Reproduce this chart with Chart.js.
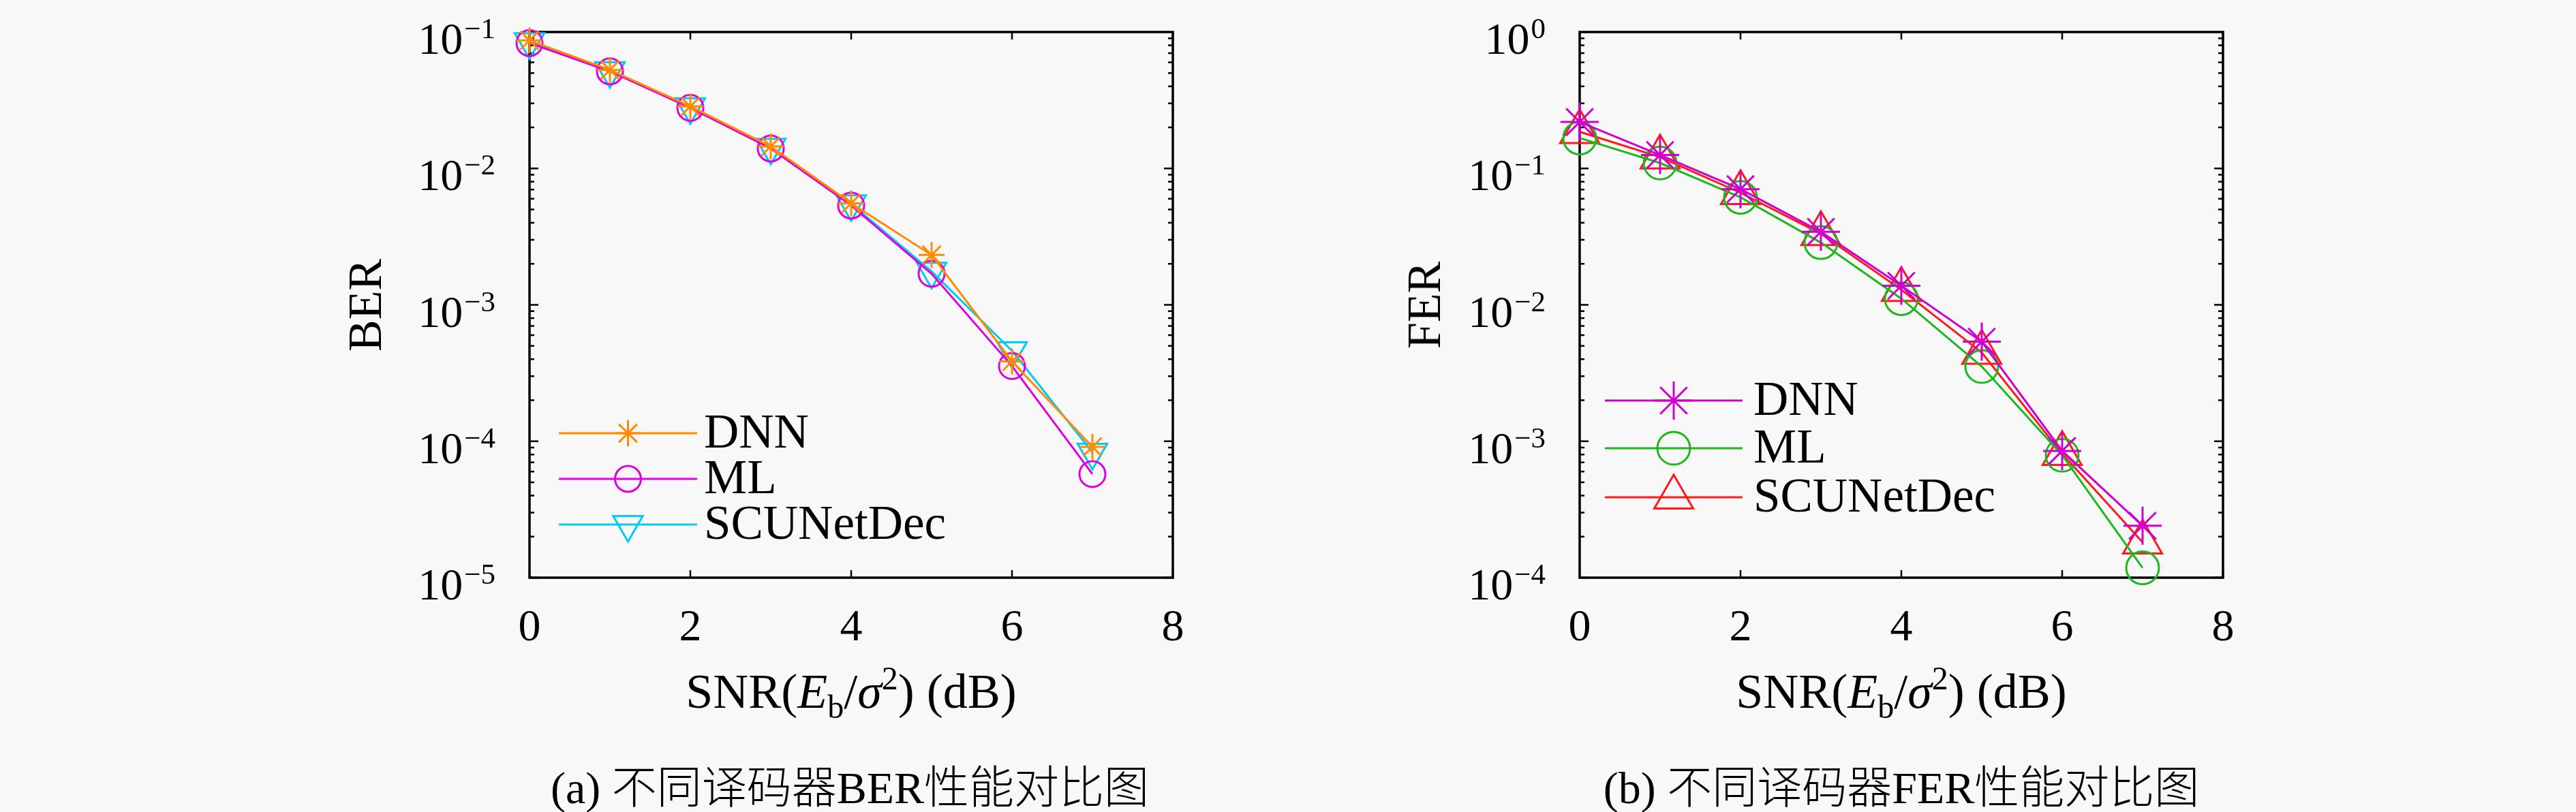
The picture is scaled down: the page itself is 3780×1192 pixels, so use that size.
<!DOCTYPE html>
<html>
<head>
<meta charset="utf-8">
<script src="https://cdn.jsdelivr.net/npm/chart.js@4.4.0/dist/chart.umd.min.js"></script>
<style>
body { margin: 0; background: #f8f8f8; width: 3780px; height: 1192px; position: relative; overflow: hidden; font-family: "Liberation Serif", serif; }
.panel { position: absolute; top: 0; width: 1890px; height: 1192px; }
.txt { position: absolute; white-space: nowrap; color: #000; line-height: 1; }
.xt { font-size: 72px; top: 979px; transform: translateX(-50%); }
.yt { font-size: 70px; transform: translate(-50%, -50%) rotate(-90deg); }
.cap { font-size: 66px; top: 1117px; transform: translateX(-50%); font-family: "Liberation Serif", "Noto Sans CJK SC"; }
.cjk { font-family: "Noto Sans CJK SC"; font-weight: 300; }
.sub { font-size: 48px; position: relative; top: 15px; font-style: normal; }
.sup { font-size: 48px; position: relative; top: -27px; }
</style>
</head>
<body>
<div class="panel" style="left:0"><canvas id="berChart"></canvas></div>
<div class="panel" style="left:1890px"><canvas id="ferChart"></canvas></div>

<div class="txt yt" style="left:536px; top:448px">BER</div>
<div class="txt yt" style="left:2090px; top:448px">FER</div>
<div class="txt xt" style="left:1249px">SNR(<i>E</i><span class="sub">b</span>/<i>σ</i><span class="sup">2</span>) (dB)</div>
<div class="txt xt" style="left:2790px">SNR(<i>E</i><span class="sub">b</span>/<i>σ</i><span class="sup">2</span>) (dB)</div>
<div class="txt cap" style="left:1247px">(a) <span class="cjk">不同译码器</span>BER<span class="cjk">性能对比图</span></div>
<div class="txt cap" style="left:2790px">(b) <span class="cjk">不同译码器</span>FER<span class="cjk">性能对比图</span></div>

<script>
const snr = [0, 1, 2, 3, 4, 5, 6, 7];
const names = ['DNN', 'ML', 'SCUNetDec'];

const berDnn = [0.0868, 0.0527, 0.0285, 0.0145, 0.00555, 0.00232, 0.000385, 0.000091];
const berMl = [0.0830, 0.0515, 0.0278, 0.0140, 0.00535, 0.00169, 0.000356, 0.0000575];
const berScu = [0.0850, 0.0520, 0.0283, 0.0143, 0.00550, 0.00176, 0.000460, 0.000083];

const ferDnn = [0.219, 0.1254, 0.0705, 0.0343, 0.0138, 0.00537, 0.00085, 0.00024];
const ferMl = [0.167, 0.1096, 0.0614, 0.0286, 0.0111, 0.00353, 0.00079, 0.000118];
const ferScu = [0.1855, 0.121, 0.0663, 0.0332, 0.0129, 0.00447, 0.00081, 0.000182];

const xTicks = [0, 2, 4, 6, 8];
const FONT = '"Liberation Serif"';

function series(label, vals, color, style, r, rot) {
    return {
        label: label,
        data: vals.map((v, i) => ({ x: snr[i], y: v })),
        borderColor: color,
        borderWidth: 3,
        pointStyle: style,
        pointRadius: r,
        pointRotation: rot || 0,
        pointBorderColor: color,
        pointBackgroundColor: 'rgba(0,0,0,0)',
        pointBorderWidth: 3,
        fill: false,
        tension: 0,
        clip: false
    };
}

// box, inward ticks and 10^n labels
const frame = {
    id: 'frame',
    beforeDatasetsDraw(chart) {
        const { ctx, chartArea: a, scales: { x, y } } = chart;
        ctx.save();
        ctx.strokeStyle = '#000';
        ctx.lineWidth = 2.5;
        ctx.beginPath();
        x.ticks.forEach(t => {
            const px = x.getPixelForValue(t.value);
            ctx.moveTo(px, a.bottom); ctx.lineTo(px, a.bottom - 11);
            ctx.moveTo(px, a.top); ctx.lineTo(px, a.top + 11);
        });
        const e0 = Math.round(Math.log10(y.min));
        const e1 = Math.round(Math.log10(y.max));
        for (let e = e0; e < e1; e++) {
            for (let m = 1; m < 10; m++) {
                const py = y.getPixelForValue(m * Math.pow(10, e));
                const len = m === 1 ? 13 : 7;
                ctx.moveTo(a.left, py); ctx.lineTo(a.left + len, py);
                ctx.moveTo(a.right, py); ctx.lineTo(a.right - len, py);
            }
        }
        ctx.stroke();
        ctx.lineWidth = 3.5;
        ctx.strokeRect(a.left, a.top, a.right - a.left, a.bottom - a.top);

        ctx.fillStyle = '#000';
        ctx.textAlign = 'right';
        ctx.textBaseline = 'alphabetic';
        for (let e = e0; e <= e1; e++) {
            const py = y.getPixelForValue(Math.pow(10, e));
            const exp = e < 0 ? '\u2212' + (-e) : String(e);
            ctx.font = '43px ' + FONT;
            const ew = ctx.measureText(exp).width;
            ctx.fillText(exp, a.left - 50, py + 9);
            ctx.font = '66px ' + FONT;
            ctx.fillText('10', a.left - 52 - ew, py + 32);
        }
        ctx.restore();
    }
};

// legend inside the axes: line with marker, then the name
const lineLegend = {
    id: 'lineLegend',
    afterDatasetsDraw(chart, args, opts) {
        const ctx = chart.ctx;
        ctx.save();
        chart.data.datasets.forEach((ds, i) => {
            const yy = opts.rows[i];
            ctx.strokeStyle = ds.borderColor;
            ctx.lineWidth = 3;
            ctx.beginPath();
            ctx.moveTo(opts.x0, yy);
            ctx.lineTo(opts.x1, yy);
            ctx.stroke();
            ctx.fillStyle = 'rgba(0,0,0,0)';
            Chart.helpers.drawPoint(ctx, {
                pointStyle: ds.pointStyle,
                radius: ds.pointRadius,
                rotation: ds.pointRotation,
                borderWidth: 3
            }, (opts.x0 + opts.x1) / 2, yy);
            ctx.fillStyle = '#000';
            ctx.font = '71px ' + FONT;
            ctx.textAlign = 'left';
            ctx.textBaseline = 'middle';
            ctx.fillText(ds.label, opts.textX, yy + 2);
        });
        ctx.restore();
    }
};

function makeChart(id, datasets, yMin, yMax, leftW, rightPad, legend) {
    return new Chart(document.getElementById(id), {
        type: 'line',
        data: { datasets: datasets },
        options: {
            responsive: true,
            maintainAspectRatio: false,
            animation: false,
            devicePixelRatio: 1,
            layout: { padding: { left: 0, top: 47, right: rightPad, bottom: 0 } },
            scales: {
                x: {
                    type: 'linear',
                    min: 0,
                    max: 8,
                    afterBuildTicks: s => { s.ticks = xTicks.map(v => ({ value: v })); },
                    ticks: { font: { family: 'Liberation Serif', size: 66 }, color: '#000', padding: 35, maxRotation: 0 },
                    grid: { display: false, drawTicks: false },
                    border: { display: false },
                    afterFit: s => { s.height = 1192 - 848; }
                },
                y: {
                    type: 'logarithmic',
                    min: yMin,
                    max: yMax,
                    ticks: { display: false },
                    grid: { display: false, drawTicks: false },
                    border: { display: false },
                    afterFit: s => { s.width = leftW; }
                }
            },
            plugins: {
                legend: { display: false },
                tooltip: { enabled: false },
                lineLegend: legend
            }
        },
        plugins: [frame, lineLegend]
    });
}

makeChart('berChart', [
    series(names[0], berDnn, '#ff8c00', 'star', 19),
    series(names[1], berMl, '#e000e0', 'circle', 19),
    series(names[2], berScu, '#00ccf5', 'triangle', 25, 180)
], 1e-5, 1e-1, 777, 169, { x0: 820, x1: 1023, textX: 1033, rows: [636, 703, 770] });

makeChart('ferChart', [
    series(names[0], ferDnn, '#d000d0', 'star', 28),
    series(names[1], ferMl, '#1cb81c', 'circle', 24),
    series(names[2], ferScu, '#ff1a1a', 'triangle', 33)
], 1e-4, 1, 428, 518, { x0: 465, x1: 667, textX: 683, rows: [588, 658, 730] });
</script>
</body>
</html>
